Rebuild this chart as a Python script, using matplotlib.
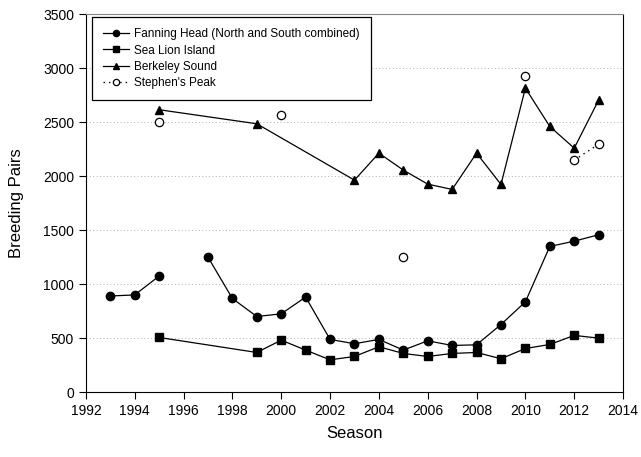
import numpy as np
import matplotlib
matplotlib.use("Agg")
import matplotlib.pyplot as plt

plt.rcParams['font.family'] = ['Liberation Sans', 'DejaVu Sans']

# Fanning Head (North and South combined) - no count in 1996
fh_years = [1993, 1994, 1995, 1996, 1997, 1998, 1999, 2000, 2001, 2002, 2003,
            2004, 2005, 2006, 2007, 2008, 2009, 2010, 2011, 2012, 2013]
fh_pairs = [890, 900, 1075, np.nan, 1250, 867, 700, 725, 880, 488, 448,
            488, 389, 475, 432, 438, 626, 836, 1349, 1398, 1457]

# Sea Lion Island
sl_years = [1995, 1999, 2000, 2001, 2002, 2003, 2004, 2005, 2006, 2007, 2008,
            2009, 2010, 2011, 2012, 2013]
sl_pairs = [506, 367, 481, 389, 299, 330, 420, 358, 330, 358, 367,
            309, 404, 441, 525, 500]

# Berkeley Sound
bs_years = [1995, 1999, 2003, 2004, 2005, 2006, 2007, 2008, 2009, 2010, 2011,
            2012, 2013]
bs_pairs = [2615, 2485, 1963, 2213, 2056, 1926, 1877, 2213, 1923, 2815, 2460,
            2259, 2704]

# Stephen's Peak - isolated counts, only 2012-2013 consecutive
sp_years = [1995, 1996, 2000, 2001, 2005, 2006, 2010, 2011, 2012, 2013]
sp_pairs = [2500, np.nan, 2568, np.nan, 1250, np.nan, 2926, np.nan, 2148, 2296]

fig = plt.figure(figsize=(6.41, 4.57), dpi=100)
ax = fig.add_axes([0.134, 0.142, 0.838, 0.827])

ax.plot(fh_years, fh_pairs, color='black', lw=0.9, marker='o', ms=6,
        label='Fanning Head (North and South combined)')
ax.plot(sl_years, sl_pairs, color='black', lw=0.9, marker='s', ms=5.5,
        label='Sea Lion Island')
ax.plot(bs_years, bs_pairs, color='black', lw=0.9, marker='^', ms=6,
        label='Berkeley Sound')
ax.plot(sp_years, sp_pairs, color='black', lw=1.0, ls=(0, (1, 3)), marker='o', ms=6,
        mfc='white', mec='black', mew=0.9, label="Stephen's Peak")

ax.set_xlim(1992, 2014)
ax.set_ylim(0, 3500)
ax.set_xticks(np.arange(1992, 2015, 2))
ax.set_yticks(np.arange(0, 3501, 500))
ax.tick_params(direction='out', length=5, width=0.8, labelsize=10, colors='black')

for y in range(500, 3500, 500):
    ax.axhline(y, color='#b0b0b0', lw=0.7, ls=(0, (1, 2.5)), zorder=0)

for s in ax.spines.values():
    s.set_linewidth(0.8)
ax.spines['top'].set_color('#888888')

ax.set_xlabel('Season', fontsize=12, labelpad=6)
ax.set_ylabel('Breeding Pairs', fontsize=12, labelpad=14)

leg = ax.legend(loc='upper left', fontsize=8.5, frameon=True, fancybox=False,
                edgecolor='black', framealpha=1, handlelength=2.2,
                handletextpad=0.4, markerscale=0.75, labelspacing=0.35,
                borderpad=0.95, borderaxespad=0, bbox_to_anchor=(0.011, 0.992))
leg.get_frame().set_linewidth(0.9)

fig.savefig('out.png', dpi=100)
